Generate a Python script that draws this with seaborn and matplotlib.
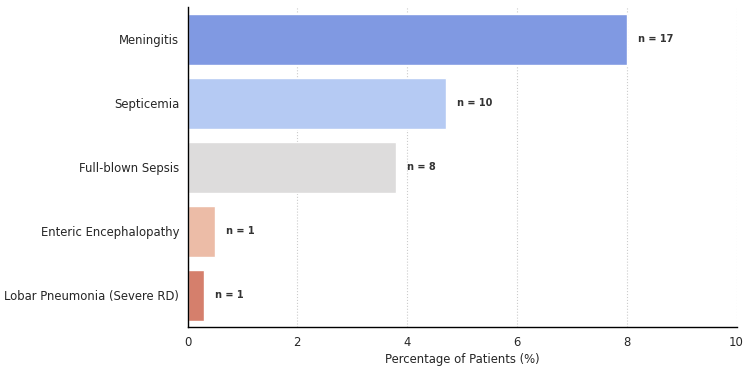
import matplotlib
matplotlib.use("Agg")
import matplotlib.pyplot as plt
import seaborn as sns

conditions = ['Meningitis', 'Septicemia', 'Full-blown Sepsis',
              'Enteric Encephalopathy', 'Lobar Pneumonia (Severe RD)']
percentages = [8.0, 4.7, 3.8, 0.5, 0.3]
counts = [17, 10, 8, 1, 1]

sns.set_style("white")
fig, ax = plt.subplots(figsize=(7.5, 3.71), dpi=100)

sns.barplot(x=percentages, y=conditions, hue=conditions, palette="coolwarm",
            legend=False, orient='h', ax=ax)

# n labels next to each bar
for i, (p, n) in enumerate(zip(percentages, counts)):
    ax.text(p + 0.2, i, f'n = {n}', va='center', ha='left',
            fontsize=7, fontweight='bold', color='#333333')

ax.set_xlim(0, 10)
ax.set_xlabel('Percentage of Patients (%)', fontsize=8.4, labelpad=3)
ax.set_ylabel('')
ax.xaxis.grid(True, linestyle=':', color='#cccccc', linewidth=0.8)
ax.set_axisbelow(True)
ax.tick_params(axis='both', length=3, color='black', pad=3, labelsize=8.4)
sns.despine(ax=ax)
for s in ['left', 'bottom']:
    ax.spines[s].set_color('black')
    ax.spines[s].set_linewidth(1)

fig.subplots_adjust(left=0.25, right=0.982, top=0.98, bottom=0.118)
plt.savefig('out.png', dpi=100)
